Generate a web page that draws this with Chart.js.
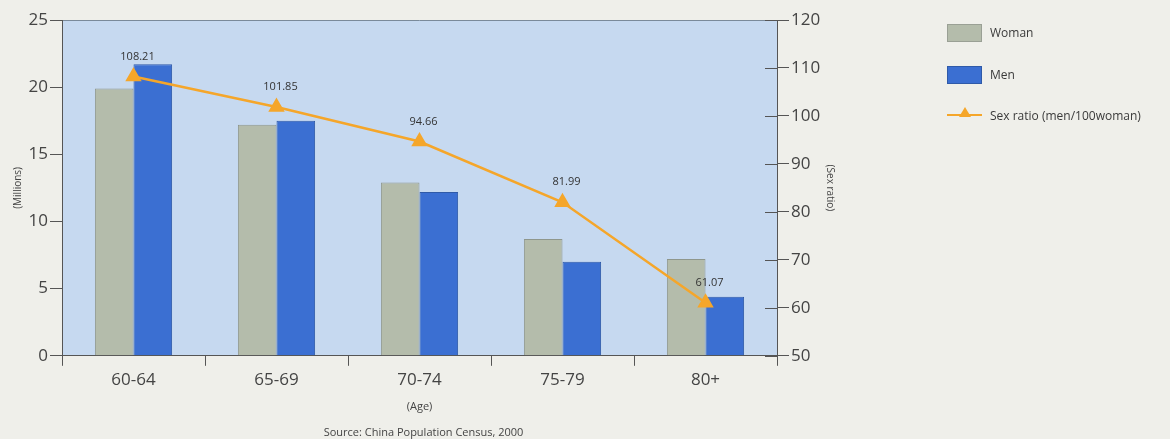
<!DOCTYPE html>
<html><head><meta charset="utf-8">
<script src="https://cdn.jsdelivr.net/npm/chart.js@4/dist/chart.umd.min.js"></script>
<style>
html,body{margin:0;padding:0;background:#efefea;}
#wrap{position:relative;width:1170px;height:439px;}
canvas{position:absolute;left:0;top:0;}
.lg{position:absolute;font-family:"Open Sans",sans-serif;font-size:12px;color:#3a3a3a;}
.box{position:absolute;width:35px;height:18px;}
</style></head>
<body><div id="wrap"><canvas id="c" width="1170" height="439"></canvas>
<div class="box" style="left:947px;top:24px;background:#b4bcab;border:1px solid #9aa095;box-sizing:border-box"></div>
<div class="lg" style="left:990px;top:24px;">Woman</div>
<div class="box" style="left:947px;top:66px;background:#3b6fd2;border:1px solid #2f5aa8;box-sizing:border-box"></div>
<div class="lg" style="left:990px;top:66px;">Men</div>
<div style="position:absolute;left:947px;top:114px;width:35px;height:2px;background:#f5a62a"></div>
<div style="position:absolute;left:959px;top:107px;width:0;height:0;border-left:6px solid transparent;border-right:6px solid transparent;border-bottom:10px solid #f5a62a"></div>
<div class="lg" style="left:990px;top:107px;">Sex ratio (men/100woman)</div>
</div>
<script>
const categories = ["60-64","65-69","70-74","75-79","80+"];
const woman = [19.9, 17.2, 12.9, 8.7, 7.2];
const men = [21.7, 17.5, 12.2, 7.0, 4.4];
const sexRatio = [108.21, 101.85, 94.66, 81.99, 61.07];
const leftTicks = [0,5,10,15,20,25];
const rightTicks = [50,60,70,80,90,100,110,120];

const FONT = "'Open Sans', sans-serif";
const bgPlugin = {
  id:'bg',
  beforeDraw(chart){
    const {ctx, chartArea:a} = chart;
    ctx.save();
    ctx.fillStyle = '#c6d9f0';
    ctx.fillRect(a.left, a.top, a.right-a.left, a.bottom-a.top);
    ctx.strokeStyle = '#7a8a9a';
    ctx.lineWidth = 1;
    ctx.beginPath();
    ctx.moveTo(a.left, a.top+0.5); ctx.lineTo(a.right, a.top+0.5);
    ctx.stroke();
    ctx.restore();
  },
  afterDraw(chart){
    // inner tick marks on the right axis (ticks cross the axis line)
    const {ctx, chartArea:a} = chart;
    const s = chart.scales.y2;
    ctx.save();
    ctx.strokeStyle = '#555';
    ctx.lineWidth = 1;
    ctx.beginPath();
    s.ticks.forEach(t=>{
      const y = Math.round(s.getPixelForValue(t.value)) + 0.5;
      ctx.moveTo(a.right - 12, y); ctx.lineTo(a.right, y);
    });
    ctx.stroke();
    ctx.restore();
  },
  afterDatasetsDraw(chart){
    const {ctx} = chart;
    const meta = chart.getDatasetMeta(2);
    ctx.save();
    ctx.font = "11px " + FONT;
    ctx.fillStyle = '#333';
    ctx.textAlign = 'center';
    ctx.textBaseline = 'middle';
    meta.data.forEach((p,i)=>{
      ctx.fillText(sexRatio[i].toFixed(2), p.x + 4, p.y - 20);
    });
    ctx.restore();
  }
};

new Chart(document.getElementById('c'), {
  data:{
    labels: categories,
    datasets:[
      {type:'bar', label:'Woman', data:woman, backgroundColor:'#b4bcab', borderColor:'#8f978c', borderWidth:1, yAxisID:'y', order:2, barPercentage:1.0, categoryPercentage:0.54},
      {type:'bar', label:'Men', data:men, backgroundColor:'#3b6fd2', borderColor:'#2f5aa8', borderWidth:1, yAxisID:'y', order:2, barPercentage:1.0, categoryPercentage:0.54},
      {type:'line', label:'Sex ratio (men/100woman)', data:sexRatio, borderColor:'#f5a62a', backgroundColor:'#f5a62a', borderWidth:2.5, pointStyle:'triangle', pointRadius:7, yAxisID:'y2', order:1, tension:0}
    ]
  },
  options:{
    responsive:false, animation:false,
    layout:{padding:{left:0, right:323, top:20, bottom:0}},
    plugins:{
      legend:{display:false}, tooltip:{enabled:false},
      title:{display:true, position:'bottom', text:'Source: China Population Census, 2000', color:'#444', font:{family:FONT, size:11, weight:'normal'}, padding:{top:4, bottom:0}}
    },
    scales:{
      x:{
        offset:true,
        grid:{offset:true, drawOnChartArea:false, color:'#555', tickLength:10, tickColor:'#555'},
        border:{color:'#555'},
        ticks:{color:'#444', font:{family:FONT, size:17}, padding:4},
        title:{display:true, text:'(Age)', color:'#444', font:{family:FONT, size:11}, padding:{top:0, bottom:8}},
        afterFit(s){ s.height = 66; }
      },
      y:{
        position:'left', min:0, max:25,
        afterBuildTicks(s){ s.ticks = leftTicks.map(v=>({value:v})); },
        grid:{drawOnChartArea:false, color:'#555', tickLength:12},
        border:{color:'#555'},
        ticks:{color:'#444', font:{family:FONT, size:17}, padding:2},
        title:{display:true, text:'(Millions)', color:'#444', font:{family:FONT, size:10}, padding:{top:12, bottom:0}},
        afterFit(s){ s.width = 62; }
      },
      y2:{
        position:'right', min:50, max:120,
        afterBuildTicks(s){ s.ticks = rightTicks.map(v=>({value:v})); },
        grid:{drawOnChartArea:false, color:'#555', tickLength:12},
        border:{color:'#555'},
        ticks:{color:'#444', font:{family:FONT, size:17}, padding:2},
        title:{display:true, text:'(Sex ratio)', color:'#444', font:{family:FONT, size:10}, padding:{top:11,bottom:0}},
        afterFit(s){ s.width = 70; }
      }
    }
  },
  plugins:[bgPlugin]
});
</script>
</body></html>
